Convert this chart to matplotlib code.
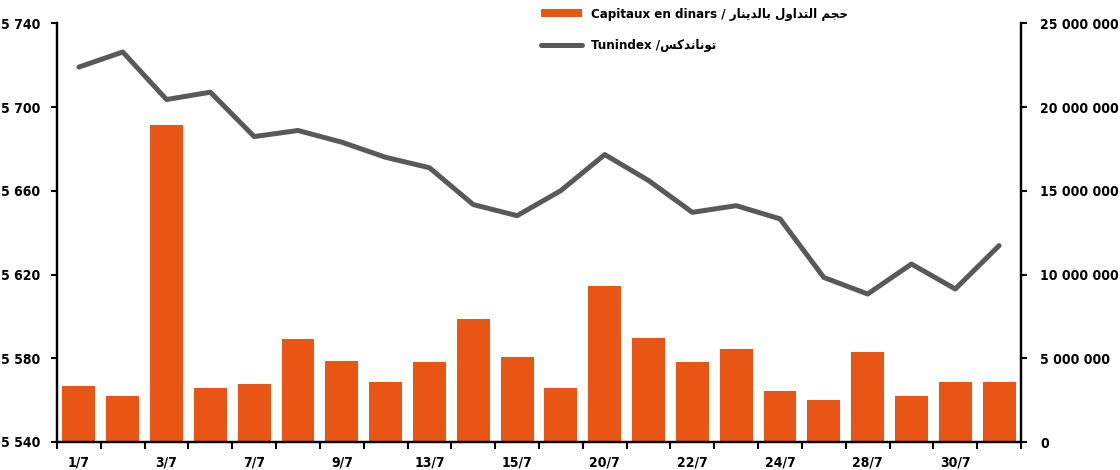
import numpy as np
import matplotlib
matplotlib.use("Agg")
import matplotlib.pyplot as plt
from matplotlib import font_manager
from matplotlib.ticker import FuncFormatter, FixedLocator

# data (22 trading days)
tick_labels = ["1/7", "3/7", "7/7", "9/7", "13/7", "15/7", "20/7", "22/7", "24/7", "28/7", "30/7"]
capitaux = [3.35e6, 2.75e6, 18.95e6, 3.23e6, 3.47e6, 6.16e6, 4.84e6, 3.59e6, 4.78e6, 7.36e6, 5.08e6,
            3.23e6, 9.33e6, 6.22e6, 4.78e6, 5.56e6, 3.05e6, 2.51e6, 5.38e6, 2.75e6, 3.59e6, 3.59e6]
tunindex = [5719.1, 5726.3, 5703.6, 5707.1, 5685.9, 5688.8, 5683.2, 5676.0, 5671.0, 5653.4, 5648.1,
            5660.1, 5677.3, 5664.9, 5649.7, 5652.9, 5646.6, 5618.6, 5610.7, 5625.0, 5613.1, 5633.8]

ORANGE = "#E85515"
GREY = "#595959"

# the original uses a narrow bold face; take a condensed one if there is any
fonts = font_manager.fontManager.ttflist
narrow = [f for f in fonts if "Narrow" in f.name or "Condensed" in f.name
          or f.stretch in ("condensed", "semi-condensed")]
if narrow:
    pick = sorted(narrow, key=lambda f: 0 if f.weight in ("bold", 700) else 1)[0]
    plt.rcParams["font.family"] = [pick.name, "DejaVu Sans"]
    plt.rcParams["font.stretch"] = pick.stretch
    TICK_SIZE, LEG_SIZE = 10, 9.5
else:
    plt.rcParams["font.family"] = ["Roboto", "DejaVu Sans"]
    TICK_SIZE, LEG_SIZE = 9.5, 9
plt.rcParams["font.weight"] = "bold"

# minimal arabic shaping (presentation forms, visual order) since matplotlib has no bidi
FORMS = {  # isolated, final, initial, medial
    "ا": (0xFE8D, 0xFE8E, None, None), "د": (0xFEA9, 0xFEAA, None, None),
    "ر": (0xFEAD, 0xFEAE, None, None), "و": (0xFEED, 0xFEEE, None, None),
    "ب": (0xFE8F, 0xFE90, 0xFE91, 0xFE92), "ت": (0xFE95, 0xFE96, 0xFE97, 0xFE98),
    "ج": (0xFE9D, 0xFE9E, 0xFE9F, 0xFEA0), "ح": (0xFEA1, 0xFEA2, 0xFEA3, 0xFEA4),
    "س": (0xFEB1, 0xFEB2, 0xFEB3, 0xFEB4), "ك": (0xFED9, 0xFEDA, 0xFEDB, 0xFEDC),
    "ل": (0xFEDD, 0xFEDE, 0xFEDF, 0xFEE0), "م": (0xFEE1, 0xFEE2, 0xFEE3, 0xFEE4),
    "ن": (0xFEE5, 0xFEE6, 0xFEE7, 0xFEE8), "ي": (0xFEF1, 0xFEF2, 0xFEF3, 0xFEF4),
}


def shape(text):
    out = []
    for i, ch in enumerate(text):
        if ch not in FORMS:
            out.append(ch)
            continue
        prev = text[i - 1] if i > 0 else " "
        nxt = text[i + 1] if i + 1 < len(text) else " "
        join_prev = prev in FORMS and FORMS[prev][2] is not None
        join_next = nxt in FORMS and FORMS[ch][2] is not None
        iso, fin, ini, med = FORMS[ch]
        if join_prev and join_next:
            code = med
        elif join_prev:
            code = fin
        elif join_next:
            code = ini
        else:
            code = iso
        out.append(chr(code))
    return "".join(out)[::-1]


label_cap = "Capitaux en dinars / " + shape("حجم التداول بالدينار")
label_tun = "Tunindex /" + shape("توناندكس")

x = np.arange(len(capitaux))

fig = plt.figure(figsize=(11.2, 4.7), dpi=100)
ax = fig.add_axes([57 / 1120, 28 / 470, 964 / 1120, 418.7 / 470])
ax2 = ax.twinx()
ax.set_zorder(ax2.get_zorder() + 1)
ax.patch.set_visible(False)

bars = ax2.bar(x, capitaux, width=0.75, color=ORANGE, label=label_cap)
line, = ax.plot(x, tunindex, color=GREY, lw=3.6, solid_capstyle="round", label=label_tun)

ax.set_xlim(-0.5, len(x) - 0.5)
ax.set_ylim(5540, 5740)
ax2.set_ylim(0, 25e6)
ax.set_yticks(np.arange(5540, 5741, 40))
ax2.set_yticks(np.arange(0, 25e6 + 1, 5e6))
fmt = FuncFormatter(lambda v, p: f"{v:,.0f}".replace(",", " "))
ax.yaxis.set_major_formatter(fmt)
ax2.yaxis.set_major_formatter(fmt)

# ticks between the bars, labels on every second day
ax.xaxis.set_major_locator(FixedLocator(np.arange(-0.5, len(x), 1.0)))
ax.xaxis.set_major_formatter(FuncFormatter(lambda v, p: ""))
ax.xaxis.set_minor_locator(FixedLocator(x[::2]))
ax.set_xticklabels(tick_labels, minor=True)
ax.tick_params(axis="x", which="major", length=5, width=1.5, direction="out")
ax.tick_params(axis="x", which="minor", length=0, pad=10, labelsize=TICK_SIZE)
ax.tick_params(axis="y", length=4, width=1.5, pad=8, labelsize=TICK_SIZE)
ax2.tick_params(axis="y", length=4, width=1.5, pad=10, labelsize=TICK_SIZE)

for a in (ax, ax2):
    a.spines["top"].set_visible(False)
    for s in ("left", "right", "bottom"):
        a.spines[s].set_linewidth(1.6)
        a.spines[s].set_color("black")

fig.legend(handles=[bars, line], labels=[label_cap, label_tun], loc="upper left",
           bbox_to_anchor=(538 / 1120, 1 - 5 / 470), frameon=False, fontsize=LEG_SIZE,
           handlelength=3.1, handleheight=0.6, handletextpad=0.7, labelspacing=1.4,
           borderaxespad=0, borderpad=0.2)

fig.savefig("out.png", dpi=100)
